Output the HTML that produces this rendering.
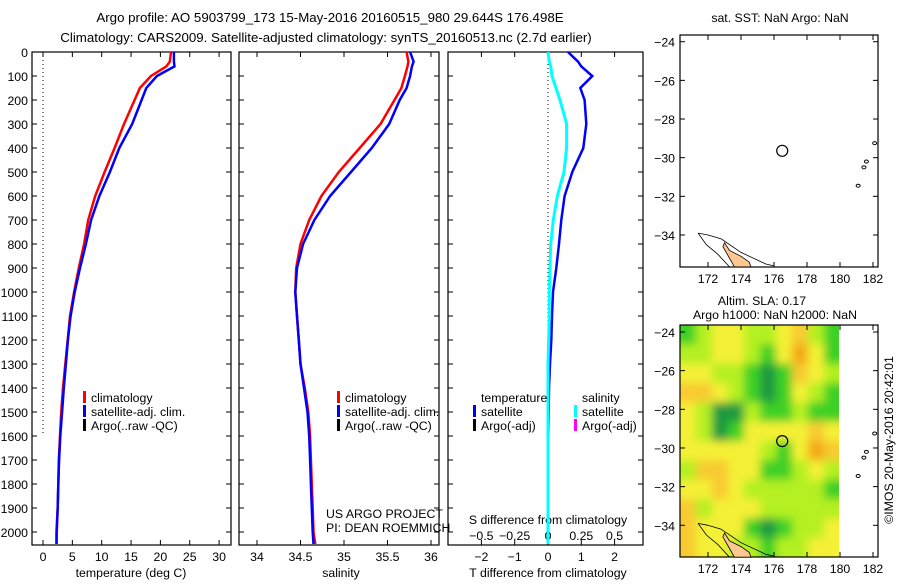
<!DOCTYPE html>
<html><head><meta charset="utf-8"><style>
body{margin:0;background:#fff}
svg text{font-family:"Liberation Sans",sans-serif;fill:#000}
</style></head><body>
<svg id="c" width="900" height="580" xmlns="http://www.w3.org/2000/svg">
<defs>
<filter id="bl" x="-5%" y="-5%" width="110%" height="110%"><feGaussianBlur stdDeviation="4.5"/></filter>
<clipPath id="hmclip"><rect x="680" y="325" width="159" height="232"/></clipPath>
</defs>
<text x="330" y="22" font-size="13.3" text-anchor="middle">Argo profile: AO 5903799_173 15-May-2016 20160515_980 29.644S 176.498E</text>
<text x="326" y="42" font-size="13.3" text-anchor="middle">Climatology: CARS2009. Satellite-adjusted climatology: synTS_20160513.nc (2.7d earlier)</text>
<g id="g"></g>
</svg>
<script>
// ---- data ----
const depthT=[0,40,60,100,150,200,300,400,500,600,700,800,900,1000,1100,1200,1300,1400,1500,1600,1700,1800,1900,2000,2050];
const tempClim=[21.8,21.6,21,18.4,16.5,15.6,13.8,12.2,10.5,8.9,7.7,7.0,6.1,5.3,4.6,4.2,3.8,3.4,3.1,2.9,2.7,2.6,2.5,2.35,2.3];
const tempSat=[22.3,22.3,22.4,19.4,17.6,16.8,15.2,13.0,11.4,9.6,8.2,7.3,6.3,5.4,4.7,4.25,3.9,3.55,3.25,2.95,2.75,2.6,2.5,2.3,2.3];
const salClim=[35.72,35.74,35.73,35.70,35.66,35.58,35.42,35.18,34.94,34.74,34.60,34.50,34.45,34.44,34.46,34.48,34.50,34.55,34.59,34.61,34.62,34.63,34.64,34.65,34.67];
const salSat=[35.76,35.8,35.78,35.76,35.72,35.64,35.52,35.32,35.08,34.84,34.66,34.53,34.46,34.44,34.46,34.48,34.50,34.54,34.58,34.60,34.61,34.62,34.63,34.64,34.65];
const tDiff=[0.6,0.9,1.0,1.33,0.97,1.1,1.15,1.06,0.73,0.5,0.4,0.33,0.25,0.15,0.12,0.1,0.06,0.03,0.02,0.01,0,0,0,0,0];
const sDiff=[0,0.01,0.02,0.03,0.06,0.09,0.14,0.14,0.12,0.07,0.04,0.02,0.015,0.01,0.01,0.005,0,0,0,0,0,0,0,0,0];
const depthTicks=[0,100,200,300,400,500,600,700,800,900,1000,1100,1200,1300,1400,1500,1600,1700,1800,1900,2000];
const tempTicks=[0,5,10,15,20,25,30];
const salTicks=[34,34.5,35,35.5,36];
const salTickLabels=["34","34.5","35","35.5","36"];
const tdTicks=[-2,-1,0,1,2];
const sdTicks=[-0.5,-0.25,0,0.25,0.5];
const latTicks=[-24,-26,-28,-30,-32,-34];
const lonTicks=[172,174,176,178,180,182];
const argoLon=176.498, argoLat=-29.644;
const slaGrid=[
[4,3,2,2,3,3,2,1,3,4],
[3,3,2,2,3,4,2,0,2,4],
[2,2,3,3,4,5,4,1,2,3],
[1,1,2,3,4,5,4,2,3,4],
[2,3,5,5,3,4,4,3,4,4],
[2,3,5,4,2,2,2,2,1,2],
[2,2,2,2,2,3,4,2,0,1],
[3,1,1,2,2,4,4,3,2,3],
[2,2,1,2,3,3,3,3,3,4],
[1,3,2,2,2,3,3,3,3,3],
[1,2,2,2,4,5,4,3,3,2],
[1,2,2,3,3,4,3,3,2,2]];
const slaColors=["#f2a818","#f8ca30","#f4f034","#b4f020","#3ed028","#1e9a40"];
const land=[[173,-34.4],[173.3,-34.8],[174,-35.1],[174.5,-35.4],[174.6,-35.65],[173.6,-35.65],[173.3,-35.2],[172.9,-34.6]];
const contour1=[[171.4,-33.9],[172,-34.0],[172.8,-34.2],[174,-34.9],[175.5,-35.5],[176,-35.6]];
const contour2=[[171.4,-33.9],[171.9,-34.5],[172.6,-35.0],[173.3,-35.65]];
const islands=[[181.1,-31.45],[181.45,-30.5],[181.6,-30.2],[182.1,-29.25]];

const NS='http://www.w3.org/2000/svg';
const G=document.getElementById('g');
function mk(tag,attrs,parent){const e=document.createElementNS(NS,tag);for(const k in attrs)e.setAttribute(k,attrs[k]);(parent||G).appendChild(e);return e;}
function txt(x,y,s,anchor,size,parent){const e=mk('text',{x:x,y:y,'font-size':size||12.3,'text-anchor':anchor||'start'},parent);e.textContent=s;return e;}
const Y=d=>52+d*0.24;
const PT=v=>43+v*5.87;
const PS=v=>257+(v-34)*87;
const PD=v=>548+v*33.3;
const PSD=v=>548+v*133.2;
const MX=l=>708+(l-172)*16.5;
const MY1=l=>41.7+(-24-l)*19.33;
const MY2=l=>332+(-24-l)*19.33;

function frame(x0,y0,x1,y1,name){const r=mk('rect',{x:x0,y:y0,width:x1-x0,height:y1-y0,fill:'none',stroke:'#000','stroke-width':1.2});}
function stepLine(xs,fx,color,name,w){let d='';for(let i=0;i<depthT.length;i++){const x=fx(xs[i]),y=Y(depthT[i]);d+=(i?'L':'M')+x.toFixed(1)+','+y.toFixed(1);}const p=mk('path',{d:d,fill:'none',stroke:color,'stroke-width':w||2.5});}

frame(32,52,231,545,'temperature-panel');
frame(239,52,439,545,'salinity-panel');
frame(448,52,643,545,'difference-panel');
depthTicks.forEach(d=>{const y=Y(d);
 const t=txt(28,y+5,String(d),'end');
 [[32,37],[226,231],[239,244],[434,439],[448,453],[638,643]].forEach(s=>mk('line',{x1:s[0],x2:s[1],y1:y,y2:y,stroke:'#000'}));});
tempTicks.forEach(v=>{const x=PT(v);mk('line',{x1:x,x2:x,y1:545,y2:540,stroke:'#000'});mk('line',{x1:x,x2:x,y1:52,y2:57,stroke:'#000'});
 const t=txt(x,561,String(v),'middle');});
let t=txt(131,577,'temperature (deg C)','middle');
salTicks.forEach((v,i)=>{const x=PS(v);mk('line',{x1:x,x2:x,y1:545,y2:540,stroke:'#000'});mk('line',{x1:x,x2:x,y1:52,y2:57,stroke:'#000'});
 const t=txt(x,561,salTickLabels[i],'middle');});
t=txt(341,577,'salinity','middle');
tdTicks.forEach(v=>{const x=PD(v);mk('line',{x1:x,x2:x,y1:545,y2:540,stroke:'#000'});mk('line',{x1:x,x2:x,y1:52,y2:57,stroke:'#000'});
 const t=txt(x,561,v<0?'\u2212'+(-v):String(v),'middle');});
sdTicks.forEach(v=>{const t=txt(PSD(v),540,v<0?'\u2212'+(-v):String(v),'middle');});
t=txt(548,524,'S difference from climatology','middle');
t=txt(548,577,'T difference from climatology','middle');
mk('line',{x1:43,x2:43,y1:Y(0),y2:Y(1600),stroke:'#000','stroke-dasharray':'1,3'});
mk('line',{x1:548,x2:548,y1:Y(0),y2:Y(1600),stroke:'#000','stroke-dasharray':'1,3'});
stepLine(tempClim,PT,'#f00','temp-climatology-line');
stepLine(tempSat,PT,'#00f','temp-satellite-line');
stepLine(salClim,PS,'#f00','sal-climatology-line');
stepLine(salSat,PS,'#00f','sal-satellite-line');
stepLine(tDiff,PD,'#00f','tdiff-satellite-line');
stepLine(sDiff,PSD,'#0ff','sdiff-satellite-line',3);
function leg(x,y,color,label,name){mk('rect',{x:x,y:y-11,width:3,height:12,fill:color});const t=txt(x+8,y,label,'start');}
leg(83,402,'#f00','climatology','legend-climatology');
leg(83,416,'#00f','satellite-adj. clim.','legend-satellite');
leg(83,430,'#000','Argo(..raw -QC)','legend-argo');
leg(337,402,'#f00','climatology','legend-climatology-2');
leg(337,416,'#00f','satellite-adj. clim.','legend-satellite-2');
leg(337,430,'#000','Argo(..raw -QC)','legend-argo-2');
t=txt(481,402,'temperature');
t=txt(582,402,'salinity');
leg(473,416,'#00f','satellite','legend-t-satellite');
leg(473,430,'#000','Argo(-adj)','legend-t-argo');
leg(574,416,'#0ff','satellite','legend-s-satellite');
leg(574,430,'#f0f','Argo(-adj)','legend-s-argo');
t=txt(326,518,'US ARGO PROJECT');
t=txt(326,532,'PI: DEAN ROEMMICH');

const hm=mk('g',{'clip-path':'url(#hmclip)'});
const hb=mk('g',{filter:'url(#bl)'},hm);
const cw=(MX(180)-680)/10, ch=232/12;
slaGrid.forEach((row,r)=>row.forEach((v,c)=>{let x=680+c*cw,y=325+r*ch,w=cw+0.5,h=ch+0.5;
 if(c==0){x-=20;w+=20}if(c==9){w+=20}if(r==0){y-=20;h+=20}if(r==11){h+=20}
 const e=mk('rect',{x:x,y:y,width:w,height:h,fill:slaColors[v]},hb);
 
 }));
function drawMap(MY,y0,y1,name){
 frame(680,y0,878,y1,name);
 latTicks.forEach(l=>{const y=MY(l);mk('line',{x1:680,x2:685,y1:y,y2:y,stroke:'#000'});mk('line',{x1:873,x2:878,y1:y,y2:y,stroke:'#000'});
  const t=txt(675,y+5,'\u2212'+(-l),'end');});
 lonTicks.forEach(l=>{const x=MX(l);mk('line',{x1:x,x2:x,y1:y1,y2:y1-5,stroke:'#000'});mk('line',{x1:x,x2:x,y1:y0,y2:y0+5,stroke:'#000'});
  const t=txt(x,y1+16,String(l),'middle');});
 const pts=a=>a.map(p=>MX(p[0]).toFixed(1)+','+MY(p[1]).toFixed(1)).join(' ');
 const L=mk('polygon',{points:pts(land),fill:'#fcc890',stroke:'#000','stroke-width':0.8});
 mk('polyline',{points:pts(contour1),fill:'none',stroke:'#000','stroke-width':0.8});
 mk('polyline',{points:pts(contour2),fill:'none',stroke:'#000','stroke-width':0.8});
 islands.forEach(p=>mk('ellipse',{cx:MX(p[0]),cy:MY(p[1]),rx:2,ry:1.5,fill:'none',stroke:'#000'}));
 const c=mk('circle',{cx:MX(argoLon),cy:MY(argoLat),r:5.5,fill:'none',stroke:'#000','stroke-width':1.2});
}
drawMap(MY1,35,267,'sst-map');
drawMap(MY2,325,557,'sla-map');
t=txt(780,22,'sat. SST: NaN Argo: NaN','middle');
t=txt(762,305,'Altim. SLA: 0.17','middle');
t=txt(775,319,'Argo h1000: NaN h2000: NaN','middle');
t=txt(0,0,'\u00a9IMOS 20-May-2016 20:42:01','middle');t.setAttribute('transform','translate(893,440) rotate(-90)');
</script>
</body></html>
